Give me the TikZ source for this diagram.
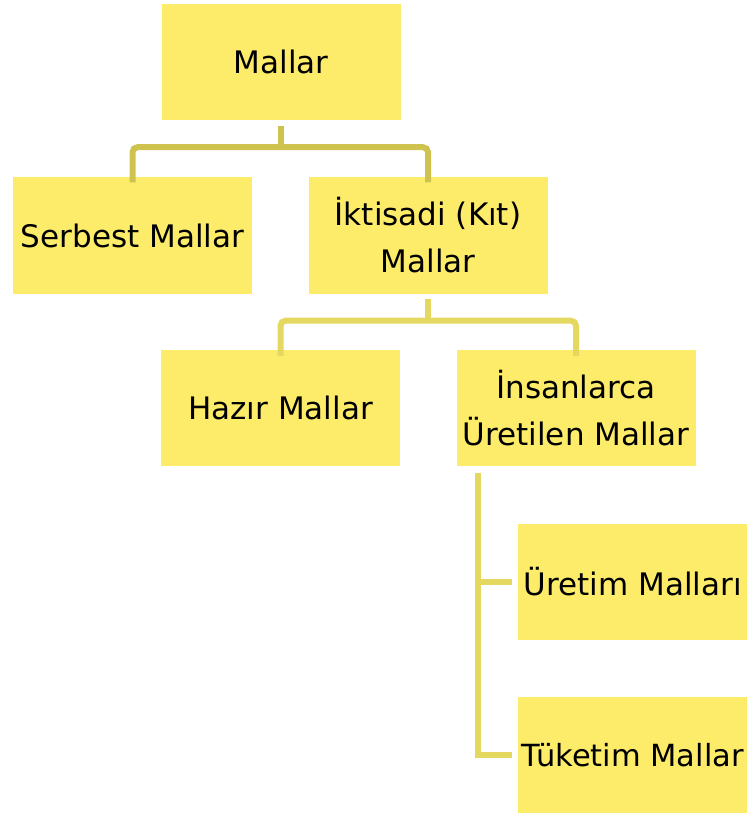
\documentclass[tikz,border=0pt]{standalone}
\usepackage{fontspec}
\setmainfont{DejaVu Sans}
\begin{document}
\begin{tikzpicture}[x=1pt,y=-1pt,
  box/.style={fill=boxfill,draw=none,minimum width=239pt,minimum height=116pt,inner sep=0pt,align=center,font=\fontsize{31}{47}\selectfont},
  conA/.style={draw=lineA,line width=6pt,rounded corners=5pt},
  conB/.style={draw=lineB,line width=6pt,rounded corners=5pt}]
\definecolor{boxfill}{HTML}{FDEC6A}
\definecolor{lineA}{HTML}{CFC350}
\definecolor{lineB}{HTML}{E5D860}
\useasboundingbox (0,0) rectangle (747,813);
\clip (0,0) rectangle (747,813);
\node[box] (mallar) at (281,62) {Mallar};
\node[box] (serbest) at (132.5,235.5) {Serbest Mallar};
\node[box] (iktisadi) at (428,235.5) {İktisadi (Kıt)\\Mallar};
\node[box] (hazir) at (280.5,408) {Hazır Mallar};
\node[box] (insan) at (576,408) {İnsanlarca\\Üretilen Mallar};
\node[box,minimum width=229pt,anchor=west] (uretim) at (518,581.5) {Üretim Malları};
\node[box,minimum width=229pt,anchor=west,font=\fontsize{30.5}{47}\selectfont] (tuketim) at (518,755) {Tüketim Mallar};
\coordinate (s1) at ([yshift=-6pt]mallar.south);
\coordinate (m1) at ([yshift=-27pt]mallar.south);
\draw[conA] (s1) -- (m1);
\draw[conA] ([yshift=-5pt]serbest.north) |- (m1) -| ([yshift=-5pt]iktisadi.north);
\coordinate (s2) at ([yshift=-5pt]iktisadi.south);
\coordinate (m2) at ([yshift=-27pt]iktisadi.south);
\draw[conB] (s2) -- (m2);
\draw[conB] ([yshift=-6pt]hazir.north) |- (m2) -| ([yshift=-6pt]insan.north);
\coordinate (v) at ([yshift=-7pt]insan.south west-|478,0);
\draw[conB,rounded corners=0pt] (v) |- ([xshift=-6pt]uretim.west);
\draw[conB,rounded corners=0pt] (v) |- ([xshift=-6pt]tuketim.west);
\end{tikzpicture}
\end{document}
